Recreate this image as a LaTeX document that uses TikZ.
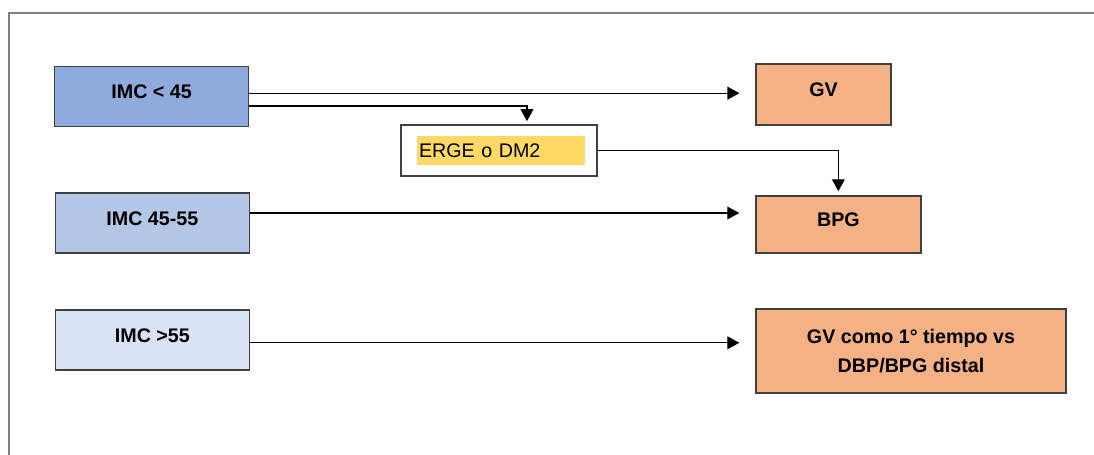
\documentclass[tikz,border=0pt]{standalone}
\usepackage{fontspec}
\setmainfont{Liberation Sans}
\usetikzlibrary{positioning, arrows.meta}
\definecolor{imcdark}{HTML}{8FAADC}
\definecolor{imcmid}{HTML}{B4C7E7}
\definecolor{imclight}{HTML}{DAE3F3}
\definecolor{surgorange}{HTML}{F4B183}
\definecolor{hlyellow}{HTML}{FFD966}
\definecolor{framegray}{HTML}{808080}

\begin{document}
\begin{tikzpicture}[
      every node/.style={font=\fontsize{14}{21}\selectfont\bfseries},
      ibox/.style={draw=black!75, line width=0.9pt, fill=#1, text depth=0.22cm,
                   minimum width=4.85cm, minimum height=1.5cm, align=center},
      sbox/.style={draw=black!75, line width=0.9pt, fill=surgorange, align=center},
      arr/.style={-{Triangle[length=0.3cm, width=0.32cm]}, line width=0.8pt},
    ]
    \useasboundingbox (0,0) rectangle (27.35,-11.375);
    \draw[framegray, line width=1.4pt] (0.225,-11.375) |- (27.35,-0.325);

    \node[ibox=imcdark]  (lo)  at (3.79,-2.41)  {IMC < 45};
    \node[ibox=imcmid]   (mid) at (3.81,-5.575) {IMC 45-55};
    \node[ibox=imclight] (hi)  at (3.81,-8.5)   {IMC >55};

    \node[sbox, text depth=0.22cm, minimum width=3.375cm, minimum height=1.525cm] (gv)  at (20.59,-2.36) {GV};
    \node[sbox, text depth=0.25cm, minimum width=4.125cm, minimum height=1.425cm] (bpg) at (20.96,-5.61) {BPG};
    \node[sbox, minimum width=7.75cm, minimum height=2.1cm] (dist) at (22.775,-8.775)
      {GV como 1° tiempo vs\\DBP/BPG distal};

    \node[draw=black!75, line width=0.9pt, fill=white,
          minimum width=4.9cm, minimum height=1.275cm] (erge) at (12.475,-3.7625) {};
    \node[fill=hlyellow, font=\fontsize{14}{16}\selectfont, inner sep=0pt,
          minimum width=4.2cm, minimum height=0.725cm, text width=4.1cm, align=left]
      (ergetxt) at ([xshift=0.05cm]erge) {ERGE o DM2};

    \draw[arr, shorten >=0.4cm] ([yshift=0.08cm]lo.east) -- ([yshift=0.08cm]lo.east -| gv.west);
    \draw[arr, shorten >=0.08cm] ([yshift=-0.24cm]lo.east) -| ([xshift=0.7cm]erge.north);
    \draw[arr, shorten >=0.1cm] (erge.east) -| (bpg.north);
    \draw[arr, shorten >=0.4cm] ([yshift=0.25cm]mid.east) -- ([yshift=0.25cm]mid.east -| bpg.west);
    \draw[arr, shorten >=0.4cm] ([yshift=-0.07cm]hi.east) -- ([yshift=-0.07cm]hi.east -| dist.west);
  \end{tikzpicture}
\end{document}
